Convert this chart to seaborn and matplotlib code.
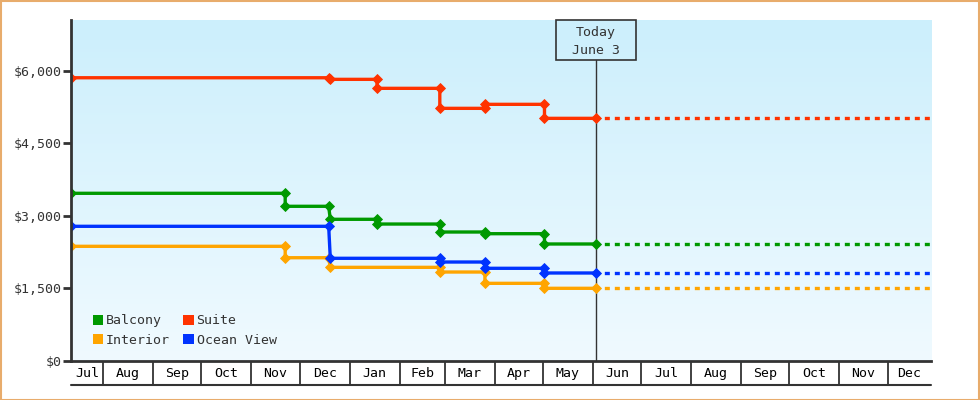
import numpy as np
import pandas as pd
import matplotlib
matplotlib.use("Agg")
import matplotlib.pyplot as plt
import matplotlib.dates as mdates
import matplotlib.transforms as mtransforms
from matplotlib.patches import Rectangle, Patch
import seaborn as sns

# ---------------- data ----------------
cabins = ["Balcony", "Interior", "Suite", "Ocean View"]
cabin_colors = ["#009900", "#FFA500", "#FF3300", "#0033FF"]

balcony_dates = ["2024-07-12", "2024-11-22", "2024-11-22", "2024-12-19", "2024-12-20",
                 "2025-01-18", "2025-01-18", "2025-02-26", "2025-02-26", "2025-03-26",
                 "2025-03-26", "2025-05-02", "2025-05-02", "2025-06-03"]
balcony_prices = [3464, 3464, 3195, 3195, 2926, 2926, 2828, 2828, 2663, 2663,
                  2628, 2628, 2415, 2415]

interior_dates = ["2024-07-12", "2024-11-22", "2024-11-22", "2024-12-19", "2024-12-20",
                  "2025-02-26", "2025-02-26", "2025-03-26", "2025-03-26", "2025-05-02",
                  "2025-05-02", "2025-06-03"]
interior_prices = [2367, 2367, 2131, 2131, 1932, 1932, 1835, 1835, 1601, 1601, 1498, 1498]

suite_dates = ["2024-07-12", "2024-12-19", "2024-12-20", "2025-01-18", "2025-01-18",
               "2025-02-26", "2025-02-26", "2025-03-26", "2025-03-26", "2025-05-02",
               "2025-05-02", "2025-06-03"]
suite_prices = [5855, 5855, 5822, 5822, 5636, 5636, 5222, 5222, 5305, 5305, 5015, 5015]

ocean_dates = ["2024-07-12", "2024-12-19", "2024-12-20", "2025-02-26", "2025-02-26",
               "2025-03-26", "2025-03-26", "2025-05-02", "2025-05-02", "2025-06-03"]
ocean_prices = [2781, 2781, 2119, 2119, 2042, 2042, 1912, 1912, 1815, 1815]

axis_start = "2024-07-12"
axis_end = "2025-12-28"
today_date = "2025-06-03"
today_lines = ["Today", "June 3"]
y_ticks = [0, 1500, 3000, 4500, 6000]
y_max = 7050

# ---------------- frame ----------------
series = {
    "Balcony": (balcony_dates, balcony_prices),
    "Interior": (interior_dates, interior_prices),
    "Suite": (suite_dates, suite_prices),
    "Ocean View": (ocean_dates, ocean_prices),
}
frames = []
proj = []
for name in cabins:
    d, p = series[name]
    frames.append(pd.DataFrame({"date": pd.to_datetime(d), "price": p, "cabin": name}))
    proj.append(pd.DataFrame({"date": pd.to_datetime([today_date, axis_end]),
                              "price": [p[-1], p[-1]], "cabin": name}))
df = pd.concat(frames, ignore_index=True)
dfp = pd.concat(proj, ignore_index=True)
palette = dict(zip(cabins, cabin_colors))

sns.set_theme(style="white")
plt.rcParams["font.family"] = ["DejaVu Sans Mono", "DejaVu Sans"]
FS = 9.5
INK = "#333333"

W, H = 980, 400
fig = plt.figure(figsize=(W / 100, H / 100), dpi=100)
fig.patch.set_facecolor("white")

L, R, T, B = 71, 931, 20, 360.7
pos = [L / W, (H - B) / H, (R - L) / W, (B - T) / H]

# gradient background
bg = fig.add_axes(pos, zorder=0)
top = np.array([0xCC, 0xEF, 0xFC]) / 255
bot = np.array([0xF0, 0xFA, 0xFF]) / 255
t = np.linspace(0, 1, 256)[:, None]
grad = (top[None, :] * (1 - t) + bot[None, :] * t)[:, None, :]
bg.imshow(grad, aspect="auto", extent=[0, 1, 0, 1], origin="upper")
bg.set_axis_off()

ax = fig.add_axes(pos, zorder=1)
ax.patch.set_alpha(0)

x0 = pd.Timestamp(axis_start)
x1 = pd.Timestamp(axis_end)
today = pd.Timestamp(today_date)

# projections (dashed)
for name in cabins:
    sub = dfp[dfp.cabin == name]
    sns.lineplot(data=sub, x="date", y="price", color=palette[name], ax=ax,
                 estimator=None, sort=False, linewidth=2.4,
                 linestyle=(0.5, (1.5, 1.5)), legend=False)

# step lines with markers
for name in cabins:
    sub = df[df.cabin == name]
    sns.lineplot(data=sub, x="date", y="price", color=palette[name], ax=ax,
                 estimator=None, sort=False, linewidth=2.4, marker="D",
                 markersize=5.3, markeredgewidth=0.6, markeredgecolor=palette[name],
                 legend=False)

ax.set_xlim(mdates.date2num(x0), mdates.date2num(x1))
ax.set_ylim(0, y_max)

# spines / ticks
for s in ["top", "right"]:
    ax.spines[s].set_visible(False)
for s in ["left", "bottom"]:
    ax.spines[s].set_color(INK)
    ax.spines[s].set_linewidth(2)
ax.set_xticks([])
ax.set_yticks(y_ticks)
ax.set_yticklabels([f"${v:,}" for v in y_ticks])
ax.tick_params(axis="y", length=6, width=2, color=INK, labelcolor=INK,
               labelsize=FS, pad=1, left=True)
ax.set_xlabel("")
ax.set_ylabel("")

# month cells
trans = mtransforms.blended_transform_factory(ax.transData, ax.transAxes)
ax_h = B - T
cell_bot = -(385 - B) / ax_h
label_y = -(373.5 - B) / ax_h
months = pd.date_range(x0.to_period("M").to_timestamp(), x1, freq="MS")
for i, ms in enumerate(months):
    me = ms + pd.offsets.MonthBegin(1)
    a = max(ms, x0)
    b = min(me, x1)
    if ms > x0:
        ax.plot([mdates.date2num(ms)] * 2, [0, cell_bot], transform=trans,
                color=INK, lw=1.3, clip_on=False, solid_capstyle="butt")
    c = mdates.date2num(a) + (mdates.date2num(b) - mdates.date2num(a)) / 2
    ax.text(c, label_y, ms.strftime("%b"), transform=trans, ha="center",
            va="center", fontsize=FS, color="black")
ax.plot([mdates.date2num(x0), mdates.date2num(x1)], [cell_bot, cell_bot],
        transform=trans, color=INK, lw=1.5, clip_on=False)

# today marker
box_top = 20
box_bot = 60
ax.axvline(mdates.date2num(today), ymin=0, ymax=(B - box_bot) / ax_h,
           color=INK, lw=1, zorder=0.5)
tfrac = (mdates.date2num(today) - mdates.date2num(x0)) / (mdates.date2num(x1) - mdates.date2num(x0))
tx = L + tfrac * (R - L)
fig.patches.append(Rectangle(((tx - 40) / W, (H - box_bot) / H), 80 / W, (box_bot - box_top) / H,
                             transform=fig.transFigure, facecolor="none",
                             edgecolor=INK, lw=1.2, zorder=5))
fig.text(tx / W, (H - 32.5) / H, today_lines[0], ha="center", va="center",
         fontsize=FS, color=INK)
fig.text(tx / W, (H - 50.5) / H, today_lines[1], ha="center", va="center",
         fontsize=FS, color=INK)

# legend
order = ["Balcony", "Interior", "Suite", "Ocean View"]
handles = [Patch(facecolor=palette[n], edgecolor="none", label=n) for n in order]
leg = ax.legend(handles=handles, ncol=2, loc="lower left",
                bbox_to_anchor=((92.5 - L) / (R - L), (B - 346.5) / ax_h),
                frameon=False, fontsize=FS, handlelength=0.82, handleheight=0.82,
                handletextpad=0.2, columnspacing=1.0, labelspacing=0.47,
                borderaxespad=0, borderpad=0)
for txt in leg.get_texts():
    txt.set_color(INK)

# figure border
fig.patches.append(Rectangle((0.5 / W, 0.5 / H), (W - 1.5) / W, (H - 1.5) / H,
                             transform=fig.transFigure, facecolor="none",
                             edgecolor="#E8AC6C", lw=1.5, zorder=10))

fig.savefig("out.png", dpi=100)
